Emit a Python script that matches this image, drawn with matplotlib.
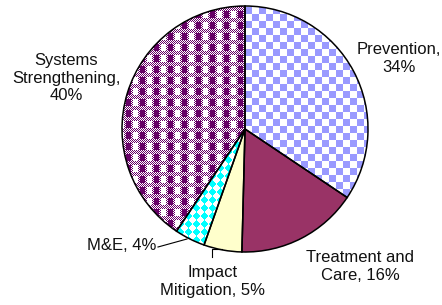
import numpy as np
import matplotlib
matplotlib.use("Agg")
import matplotlib.pyplot as plt

plt.rcParams['font.family'] = ['Liberation Sans', 'DejaVu Sans']

categories = ["Prevention", "Treatment and Care", "Impact Mitigation", "M&E", "Systems Strengthening"]
values = [34.4, 16.0, 5.0, 4.0, 40.6]
label_texts = ["Prevention,\n34%", "Treatment and\nCare, 16%", "Impact\nMitigation, 5%", "M&E, 4%", "Systems\nStrengthening,\n40%"]
base_colors = ["#9999FF", "#993366", "#FFFFCC", "#00FFFF", "#660066"]

W, H = 442, 305
fig = plt.figure(figsize=(W / 100, H / 100), dpi=100)
ax = fig.add_axes([0, 0, 1, 1])

cx, cy, R = 245, H - 129, 123

wedges, _ = ax.pie(values, colors=base_colors, startangle=90, counterclock=False,
                   center=(cx, cy), radius=R, wedgeprops=dict(linewidth=0))

# texture patterns (pixel grid)
ii, jj = np.mgrid[0:H, 0:W]

def rgb(h):
    h = h.lstrip('#')
    return np.array([int(h[k:k + 2], 16) / 255 for k in (0, 2, 4)])

white = np.array([1.0, 1.0, 1.0])

def make(mask, col):
    img = np.empty((H, W, 3))
    img[:] = white
    img[mask] = rgb(col)
    return img

# Prevention: checkerboard
prev_mask = ((jj // 7 + ii // 7) % 2) == 0
# Systems: plaid
xp = jj % 14
yp = ii % 11
fine = ((ii + jj) % 2) == 0
band = yp >= 7
dark_col = xp < 5
white_col = (xp >= 7) & (xp < 12)
sys_mask = np.where(band, fine, np.where(dark_col, True, np.where(white_col, False, fine)))
# M&E: diagonal checker (diamonds)
s = 8
me_mask = (((ii + jj) // s + (ii - jj + 1000) // s) % 2) == 0

patterns = {0: make(prev_mask, "#9999FF"), 4: make(sys_mask, "#660066"), 3: make(me_mask, "#00FFFF")}
for idx, img in patterns.items():
    im = ax.imshow(img, extent=(0, W, 0, H), origin='upper', interpolation='nearest', zorder=1.5)
    im.set_clip_path(wedges[idx])

# outlines on top
ax.pie(values, colors=['none'] * len(values), startangle=90, counterclock=False,
       center=(cx, cy), radius=R, wedgeprops=dict(linewidth=1.1, edgecolor='black'))
for w in ax.patches[len(values):]:
    w.set_zorder(3)

ax.set_xlim(0, W)
ax.set_ylim(0, H)
ax.set_aspect('equal')
ax.axis('off')

fs = 12
kw = dict(fontsize=fs, color='#111111', linespacing=1.25, va='center')
ax.text(399, H - 58, label_texts[0], ha='center', zorder=5, **kw)
ax.text(360, H - 266, label_texts[1], ha='center', zorder=5, **kw)
ax.text(213, H - 282, label_texts[2], ha='center', zorder=5, **kw)
ax.text(156, H - 245, label_texts[3], ha='right', zorder=5, **kw)
ax.text(66, H - 78, label_texts[4], ha='center', zorder=5, **kw)

# leader lines
ax.plot([158, 187], [H - 247, H - 239], color='black', lw=0.8, zorder=4)
ax.plot([222, 212, 212], [H - 249, H - 249, H - 257], color='black', lw=0.8, zorder=4)

fig.savefig("out.png", dpi=100)
